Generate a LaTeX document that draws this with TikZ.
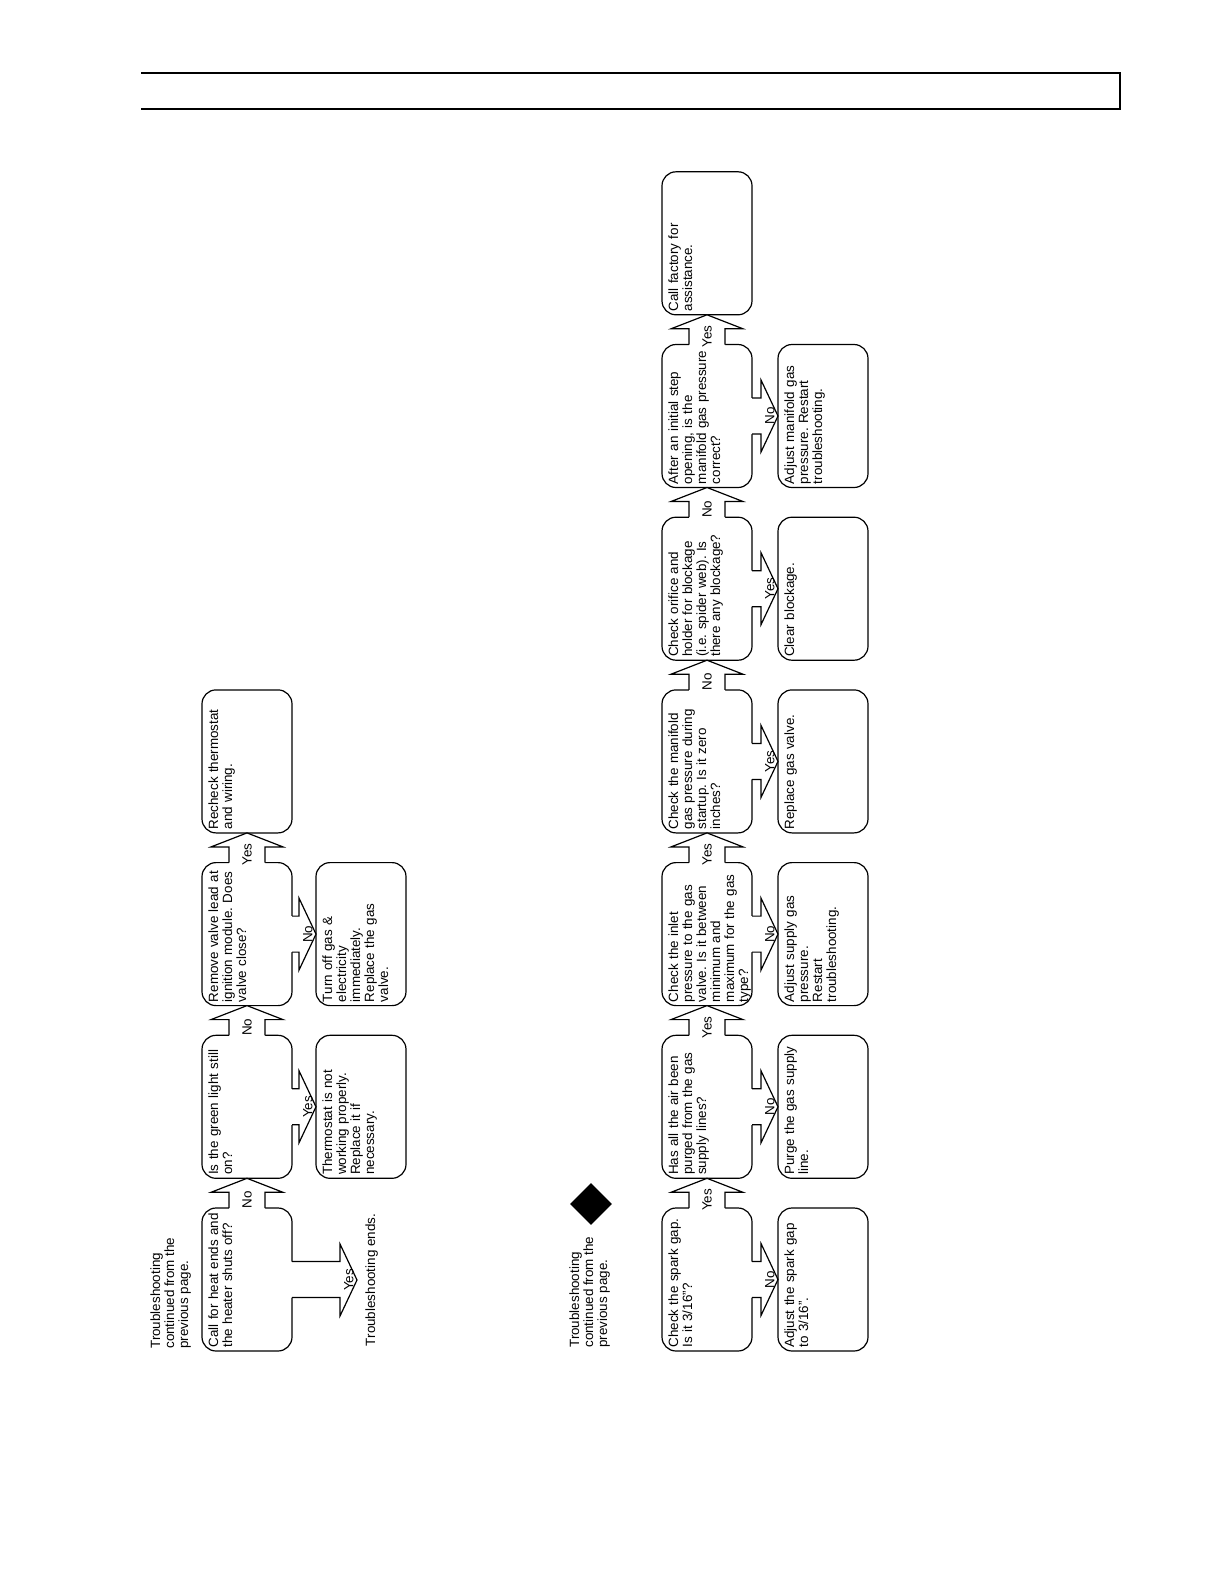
\documentclass[tikz,border=0pt]{standalone}
\usepackage{fontspec}
\setmainfont{Liberation Sans}
\usepackage{tikz}
\usetikzlibrary{calc,shapes.geometric}
\hyphenpenalty=10000
\frenchspacing

% fat outline arrow up the page, from box edge #1 to box edge #2
\newcommand{\fatup}[4]{%
  \fill[white] ($(#1)+(-18,1.5)$) |- ($(#2)+(-36,14)$) -- (#2)
    -- ($(#2)+(36,14)$) -| ($(#1)+(18,1.5)$) -- cycle;
  \draw[fatline] ($(#1)+(-18,0)$) |- ($(#2)+(-36,14)$) -- (#2)
    -- ($(#2)+(36,14)$) -| ($(#1)+(18,0)$);
  \node[answer] (#4) at ($(#1)+(0,-8)$) {#3};%
}
% the same arrow, to the right of the page
\newcommand{\fatright}[4]{%
  \fill[white] ($(#1)+(-1.5,-18)$) -| ($(#2)+(-17,-36)$) -- (#2)
    -- ($(#2)+(-17,36)$) |- ($(#1)+(-1.5,18)$) -- cycle;
  \draw[fatline] ($(#1)+(0,-18)$) -| ($(#2)+(-17,-36)$) -- (#2)
    -- ($(#2)+(-17,36)$) |- ($(#1)+(0,18)$);
  \node[answer,anchor=south] (#4) at ($(#2)+(-2,0)$) {#3};%
}

\begin{document}
\begin{tikzpicture}[x=0.5bp,y=-0.5bp,
  every node/.style={font=\fontsize{6.7bp}{7bp}\selectfont},
  box/.style={draw,line width=0.6bp,rounded corners=7bp,rotate=90,outer sep=0pt,
    minimum width=71.5bp,minimum height=45bp,text width=68bp,align=left,
    inner xsep=1.75bp,inner ysep=3bp,text height=5bp,text depth=34bp},
  fatline/.style={line width=0.6bp,line join=miter},
  answer/.style={rotate=90,inner sep=0.5bp},
  note/.style={rotate=90,align=left,inner sep=0pt,anchor=north west}]
  \useasboundingbox (0,0) rectangle (1224,1584);
  % header band
  \draw[line width=1bp] (141,72.5) -- (1120,72.5) -- (1120,109) -- (141,109);

  % upper chart: heater shuts off
  \node[note] (prevup) at (150,1349) {Troubleshooting\\continued from the\\previous page.};
  \node[box] (heatoff) at (247,1279.5) {Call for heat ends and\\the heater shuts off?};
  \node[box] (green) at (247,1106.8) {Is the green light still\\on?};
  \node[box] (lead) at (247,934.1) {Remove valve lead at\\ignition module. Does\\valve close?};
  \node[box] (recheck) at (247,761.4) {Recheck thermostat\\and wiring.};
  \node[box] (thermo) at (361,1106.8) {Thermostat is not\\working properly.\\Replace it if\\necessary.};
  \node[box] (gasoff) at (361,934.1) {Turn off gas \&\\electricity\\immediately.\\Replace the gas\\valve.};
  \node[note,anchor=north,inner sep=4bp] (ends) at (357,1280) {Troubleshooting ends.};

  \fatup{heatoff.east}{green.west}{No}{heatno}
  \fatup{green.east}{lead.west}{No}{greenno}
  \fatup{lead.east}{recheck.west}{Yes}{leadyes}
  \fatright{heatoff.south}{ends.north}{Yes}{heatyes}
  \fatright{green.south}{thermo.north}{Yes}{greenyes}
  \fatright{lead.south}{gasoff.north}{No}{leadno}

  % lower chart: no ignition
  \node[diamond,fill,inner sep=0pt,minimum size=21bp] (mark) at (591,1204) {};
  \node[note] (prevlow) at (569,1348) {Troubleshooting\\continued from the\\previous page.};
  \node[box] (spark) at (707,1279.5) {Check the spark gap.\\Is it 3/16"?};
  \node[box] (air) at (707,1106.8) {Has all the air been\\purged from the gas\\supply lines?};
  \node[box] (inlet) at (707,934.1) {Check the inlet\\pressure to the gas\\valve. Is it between\\minimum and\\maximum for the gas\\type?};
  \node[box] (manif) at (707,761.4) {Check the manifold\\gas pressure during\\startup. Is it zero\\inches?};
  \node[box] (orifice) at (707,588.7) {Check orifice and\\holder for blockage\\(i.e. spider web). Is\\there any blockage?};
  \node[box] (step) at (707,416) {After an initial step\\opening, is the\\manifold gas pressure\\correct?};
  \node[box] (factory) at (707,243.3) {Call factory for\\assistance.};
  \node[box] (gapfix) at (823,1279.5) {Adjust the spark gap\\to 3/16".};
  \node[box] (purge) at (823,1106.8) {Purge the gas supply\\line.};
  \node[box] (supply) at (823,934.1) {Adjust supply gas\\pressure.\\Restart\\troubleshooting.};
  \node[box] (valve) at (823,761.4) {Replace gas valve.};
  \node[box] (clear) at (823,588.7) {Clear blockage.};
  \node[box] (adjust) at (823,416) {Adjust manifold gas\\pressure. Restart\\troubleshooting.};

  \fatup{spark.east}{air.west}{Yes}{sparkyes}
  \fatup{air.east}{inlet.west}{Yes}{airyes}
  \fatup{inlet.east}{manif.west}{Yes}{inletyes}
  \fatup{manif.east}{orifice.west}{No}{manifno}
  \fatup{orifice.east}{step.west}{No}{orificeno}
  \fatup{step.east}{factory.west}{Yes}{stepyes}
  \fatright{spark.south}{gapfix.north}{No}{sparkno}
  \fatright{air.south}{purge.north}{No}{airno}
  \fatright{inlet.south}{supply.north}{No}{inletno}
  \fatright{manif.south}{valve.north}{Yes}{manifyes}
  \fatright{orifice.south}{clear.north}{Yes}{orificeyes}
  \fatright{step.south}{adjust.north}{No}{stepno}
\end{tikzpicture}
\end{document}
